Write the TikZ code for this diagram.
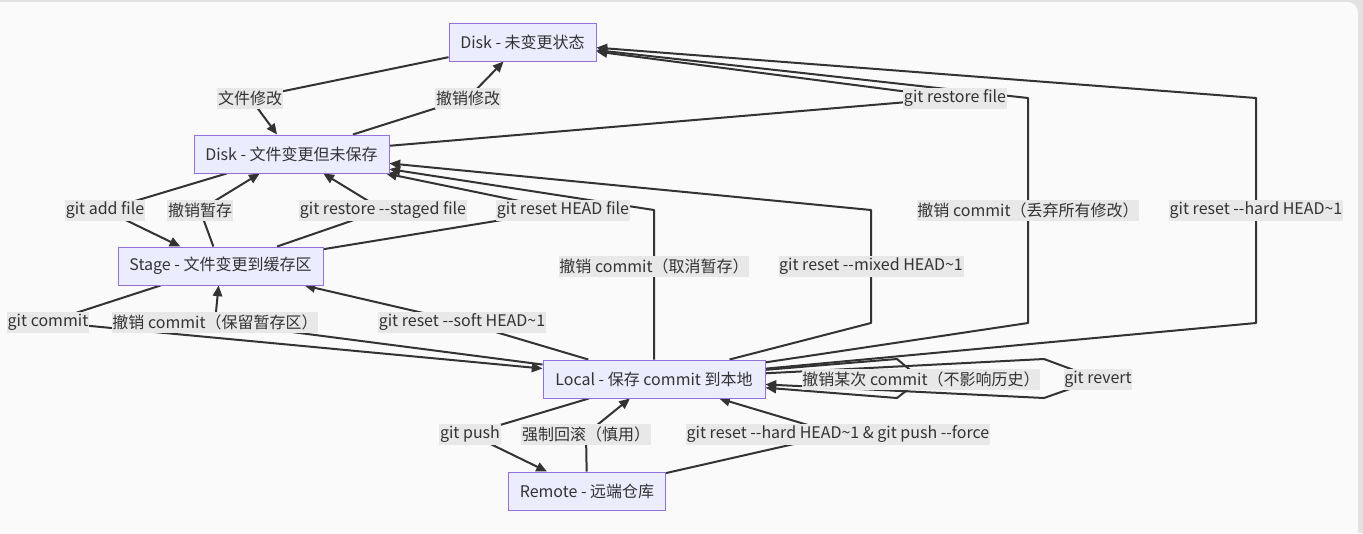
\documentclass[tikz,border=0pt]{standalone}
\usepackage{fontspec}
\setmainfont{Noto Sans CJK SC}
\usetikzlibrary{arrows.meta}

\definecolor{boxfill}{HTML}{ECECFF}
\definecolor{boxline}{HTML}{9370DB}
\definecolor{ink}{HTML}{333333}
\definecolor{lblfill}{HTML}{E8E8E8}
\definecolor{canvas}{HTML}{FAFAFA}
\definecolor{frame}{HTML}{E2E2E2}

\newcommand{\dd}{-\kern0pt-}

\pgfdeclarelayer{back}
\pgfsetlayers{back,main}

\begin{document}
\begin{tikzpicture}[x=0.75pt,y=-0.75pt]
\tikzset{box/.style = {shape=rectangle,draw=boxline,fill=boxfill,line width=0.75pt,minimum height=28.5pt,text=ink,font=\fontsize{12}{14}\selectfont}}
\tikzset{lbl/.style = {fill=lblfill,text=ink,inner xsep=0.5pt,inner ysep=0pt,minimum height=15.75pt,font=\fontsize{12}{14}\selectfont}}
\tikzset{edge/.style = {draw=ink,line width=1.5pt,line join=round,-{Triangle[length=8pt,width=7pt]}}}

\useasboundingbox (0,0) rectangle (1363,533);

% states
\node[box,minimum width=110.25pt] (d0) at (522.5,42) {Disk - 未变更状态};
\node[box,minimum width=146.25pt] (d1) at (291.5,154) {Disk - 文件变更但未保存};
\node[box,minimum width=153.75pt] (s)  at (220.5,266) {Stage - 文件变更到缓存区};
\node[box,minimum width=166.5pt]  (l)  at (654,379) {Local - 保存 commit 到本地};
\node[box,minimum width=117.75pt] (r)  at (587,491) {Remote - 远端仓库};

% labels
\node[lbl] (modify)   at (250,98)  {文件修改};
\node[lbl] (unmodify) at (468,98)  {撤销修改};
\node[lbl] (restore)  at (955,98)  {git restore file};
\node[lbl] (add)      at (105,210) {git add file};
\node[lbl] (unstage)  at (200,210) {撤销暂存};
\node[lbl] (staged)   at (383,210) {git restore \dd staged file};
\node[lbl] (resethead) at (563,210) {git reset HEAD file};
\node[lbl] (discard)  at (1028,210) {撤销 commit（丢弃所有修改）};
\node[lbl] (hard)     at (1256,210) {git reset \dd hard HEAD\textasciitilde 1};
\node[lbl] (undostage) at (654,266) {撤销 commit（取消暂存）};
\node[lbl] (mixed)    at (871,266) {git reset \dd mixed HEAD\textasciitilde 1};
\node[lbl] (commit)   at (48,322)  {git commit};
\node[lbl] (keep)     at (215,322) {撤销 commit（保留暂存区）};
\node[lbl] (soft)     at (462,322) {git reset \dd soft HEAD\textasciitilde 1};
\node[lbl] (once)     at (921,379) {撤销某次 commit（不影响历史）};
\node[lbl] (revert)   at (1098,379) {git revert};
\node[lbl] (push)     at (470,434) {git push};
\node[lbl] (rollback) at (586,434) {强制回滚（慎用）};
\node[lbl] (force)    at (838,434) {git reset \dd hard HEAD\textasciitilde 1 \& git push \dd force};

% bends
\coordinate (m1) at (654,210);
\coordinate (m2) at (871,323);
\coordinate (m3) at (871,210);
\coordinate (h1) at (1028,323);
\coordinate (h2) at (1028,98);
\coordinate (h3) at (1256,323);
\coordinate (h4) at (1256,98);
\coordinate (o1) at (897,359);
\coordinate (o2) at (897,398);
\coordinate (v1) at (1044,359);
\coordinate (v2) at (1044,398);

\begin{pgfonlayer}{back}
\fill[frame] (0,0) rectangle (1363,533);
\fill[canvas,rounded corners=8] (-20,2) rectangle (1358,560);

\draw[edge] (d0) -- (modify.center) -- (d1);
\draw[edge] (d1) -- (unmodify.center) -- (d0);
\draw[edge] (d1) -- (restore.center) -- (d0);
\draw[edge] (d1) -- (add.center) -- (s);
\draw[edge] (s) -- (unstage.center) -- (d1);
\draw[edge] (s) -- (staged.center) -- (d1);
\draw[edge] (s) -- (resethead.center) -- (d1);
\draw[edge] (l) -- (undostage.center) -- (m1) -- (d1);
\draw[edge] (l) -- (m2) -- (mixed.center) -- (m3) -- (d1);
\draw[edge] (l) -- (h1) -- (discard.center) -- (h2) -- (d0);
\draw[edge] (l) -- (h3) -- (hard.center) -- (h4) -- (d0);
\draw[edge] (s) -- (commit.center) -- (l);
\draw[edge] (l) -- (keep.center) -- (s);
\draw[edge] (l) -- (soft.center) -- (s);
\draw[edge] (l) -- (o1) -- (once.center) -- (o2) -- (l);
\draw[edge] (l) -- (v1) -- (revert.center) -- (v2) -- (l);
\draw[edge] (l) -- (push.center) -- (r);
\draw[edge] (r) -- (rollback.center) -- (l);
\draw[edge] (r) -- (force.center) -- (l);
\end{pgfonlayer}

\end{tikzpicture}
\end{document}
